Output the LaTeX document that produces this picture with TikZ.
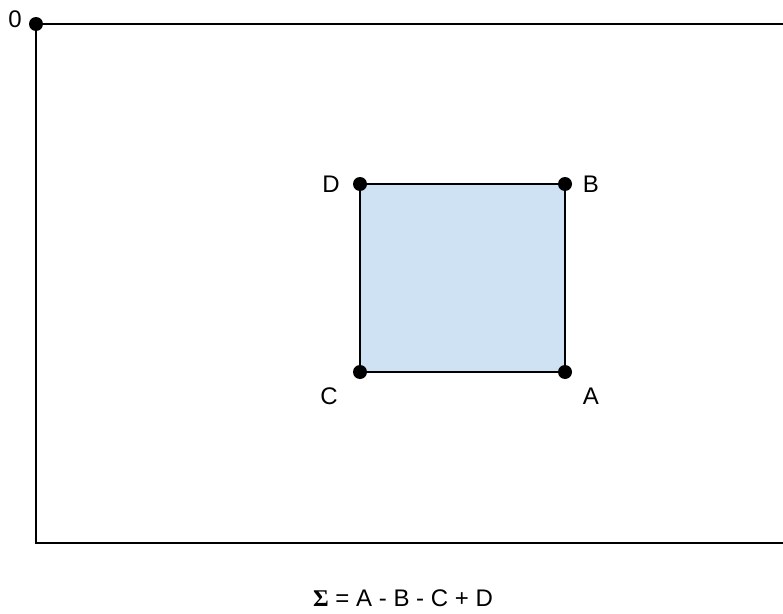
\documentclass[tikz,border=0pt]{standalone}
\usepackage{fontspec}
\setmainfont{Liberation Sans}
\newfontfamily\serifbold{Liberation Serif}
\usetikzlibrary{positioning}

\begin{document}
\begin{tikzpicture}[
    x=0.75pt, y=-0.75pt,
    % corner dots
    dot/.style={circle, fill=black, inner sep=0pt, minimum size=10.5pt},
    % corner labels
    lbl/.style={font=\fontsize{18}{21}\selectfont, inner sep=0pt},
    % frame and window lines
    edge/.style={line width=1.7pt, line cap=rect},
]
\definecolor{areablue}{HTML}{CFE2F3}

\useasboundingbox (0,0) rectangle (783,614);

% Image frame
\node[dot] (origin) at (36,24) {};
\coordinate (topright) at (800,24);
\coordinate (botleft) at (36,543);
\coordinate (botright) at (800,543);
\draw[edge] (origin.center) -- (topright);
\draw[edge] (origin.center) -- (botleft) -- (botright);
\node[lbl] (zero) at (15,19) {0};

% Window corners
\coordinate (d) at (360,184);
\coordinate (b) at (565,184);
\coordinate (c) at (360,372);
\coordinate (a) at (565,372);

% Window
\fill[areablue] (d) rectangle (a);
\draw[edge] (d) -- (b) -- (a) -- (c) -- cycle;

\node[dot] (dotD) at (d) {};
\node[dot] (dotB) at (b) {};
\node[dot] (dotC) at (c) {};
\node[dot] (dotA) at (a) {};

\node[lbl] (labD) at (331,184) {D};
\node[lbl] (labB) at (591,184) {B};
\node[lbl] (labC) at (329,396) {C};
\node[lbl] (labA) at (591,396) {A};

% Sum formula
\node[lbl] (formula) at (403,598) {{\serifbold\bfseries Σ} = A - B - C + D};

\end{tikzpicture}
\end{document}
